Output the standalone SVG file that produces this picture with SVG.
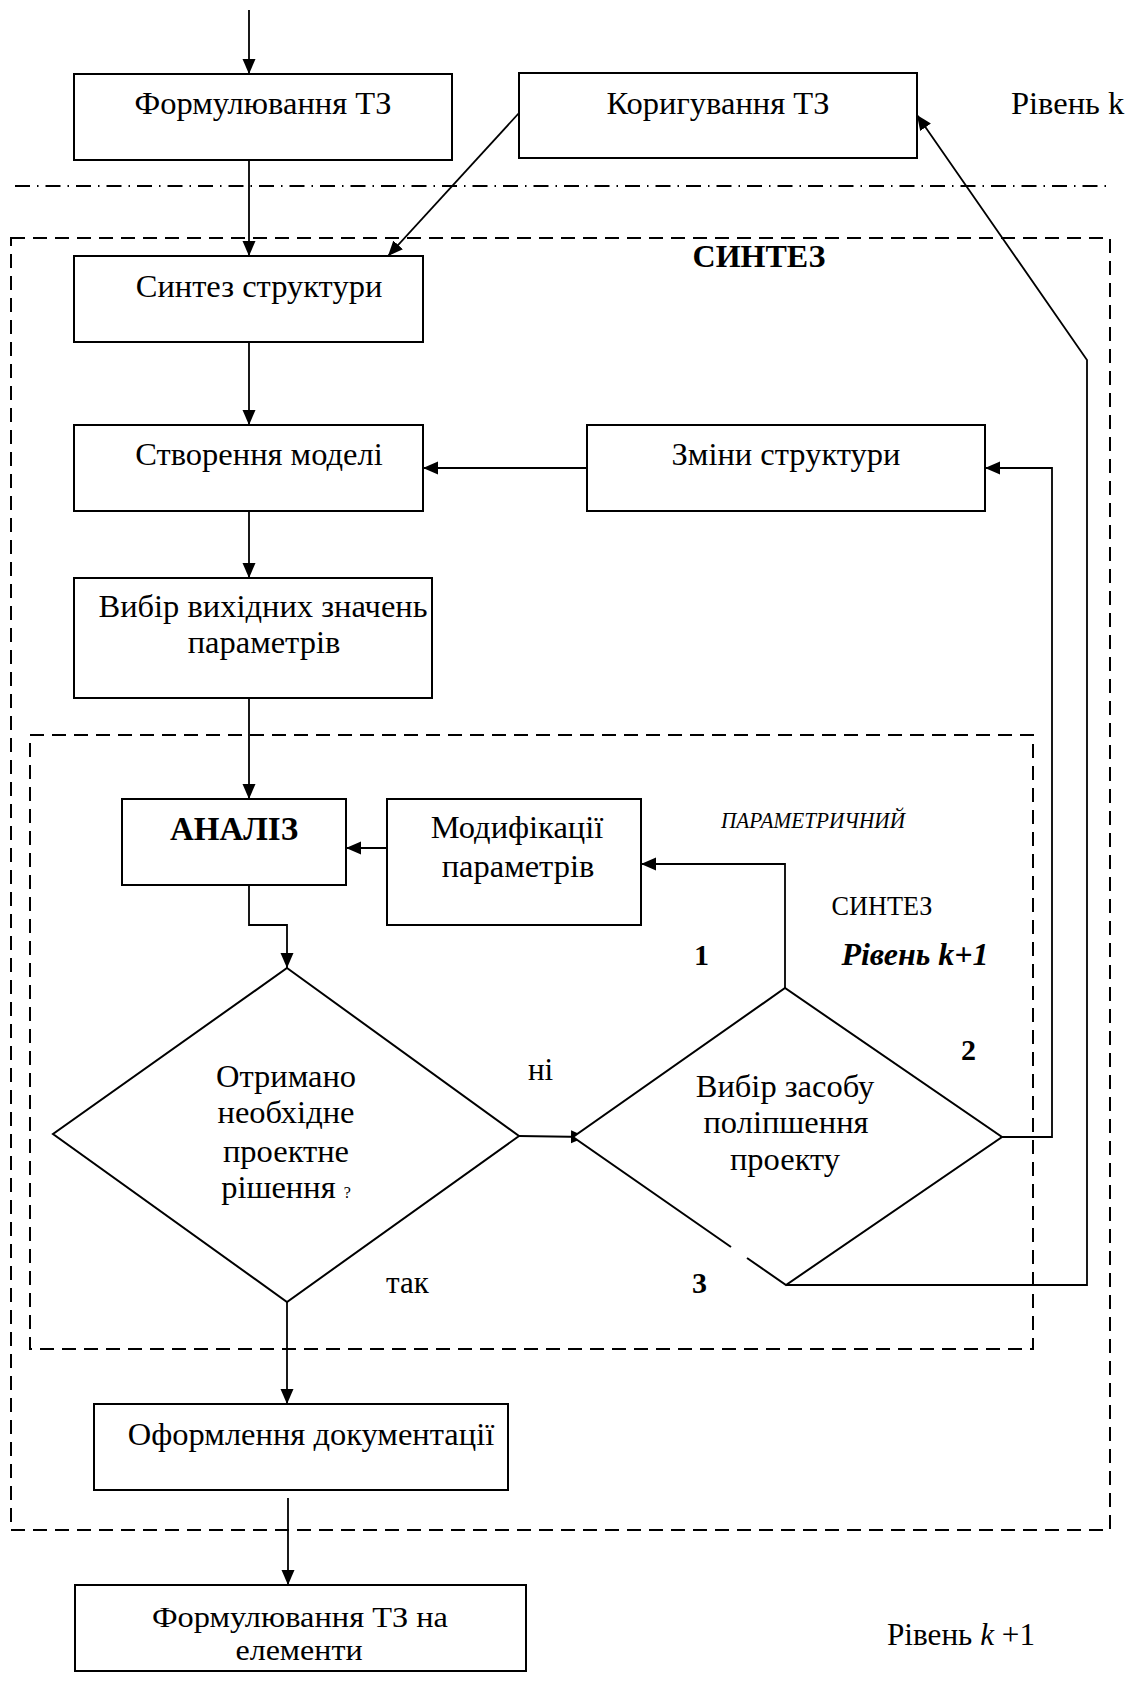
<svg xmlns="http://www.w3.org/2000/svg" width="1135" height="1700" viewBox="0 0 1135 1700">
<defs>
<marker id="arr" markerUnits="userSpaceOnUse" markerWidth="16" markerHeight="14" refX="15" refY="6.5" orient="auto">
<path d="M0,0 L15,6.5 L0,13 z" fill="#000"/>
</marker>
<style>
.box{fill:#fff;stroke:#000;stroke-width:2}
.ln{fill:none;stroke:#000;stroke-width:1.8}
.dash{fill:none;stroke:#000;stroke-width:2;stroke-dasharray:14 8}
.dd{fill:none;stroke:#000;stroke-width:2;stroke-dasharray:15 7 1.5 7}
text{font-family:"Liberation Serif","Times New Roman",serif;font-size:32.5px;fill:#000}
.c{text-anchor:middle}
.b{font-weight:bold}
.i{font-style:italic}
</style>
</defs>
<rect width="1135" height="1700" fill="#fff"/>

<g id="frames">
<line class="dd" x1="15" y1="186" x2="1112" y2="186"/>
<rect class="dash" x="11" y="238" width="1099" height="1292"/>
<rect class="dash" x="30" y="735" width="1003" height="614"/>
</g>

<g id="connectors">
<line class="ln" x1="249" y1="10" x2="249" y2="74" marker-end="url(#arr)"/>
<line class="ln" x1="249" y1="160" x2="249" y2="256" marker-end="url(#arr)"/>
<line class="ln" x1="519" y1="113" x2="388" y2="256" marker-end="url(#arr)"/>
<line class="ln" x1="249" y1="342" x2="249" y2="425" marker-end="url(#arr)"/>
<line class="ln" x1="249" y1="511" x2="249" y2="578" marker-end="url(#arr)"/>
<line class="ln" x1="587" y1="468" x2="423" y2="468" marker-end="url(#arr)"/>
<line class="ln" x1="249" y1="698" x2="249" y2="799" marker-end="url(#arr)"/>
<line class="ln" x1="387" y1="848" x2="346" y2="848" marker-end="url(#arr)"/>
<polyline class="ln" points="249,885 249,925 287,925 287,968" marker-end="url(#arr)"/>
<line class="ln" x1="519" y1="1136" x2="586" y2="1137" marker-end="url(#arr)"/>
<polyline class="ln" points="785,988 785,864 641,864" marker-end="url(#arr)"/>
<polyline class="ln" points="1002,1137 1052,1137 1052,468 985,468" marker-end="url(#arr)"/>
<polyline class="ln" points="786,1285 1087,1285 1087,360 917,115" marker-end="url(#arr)"/>
<line class="ln" x1="287" y1="1302" x2="287" y2="1404" marker-end="url(#arr)"/>
<line class="ln" x1="288" y1="1498" x2="288" y2="1585" marker-end="url(#arr)"/>
</g>

<g id="n-formulation">
<rect class="box" x="74" y="74" width="378" height="86"/>
<text class="c" x="263" y="114">Формулювання ТЗ</text>
</g>
<g id="n-correction">
<rect class="box" x="519" y="73" width="398" height="85"/>
<text class="c" x="718" y="114">Коригування ТЗ</text>
</g>
<g id="label-level-k">
<text x="1011" y="114">Рівень k</text>
</g>
<g id="label-synthesis">
<text class="c b" style="font-size:32px" x="759" y="267">СИНТЕЗ</text>
</g>
<g id="n-structure-synthesis">
<rect class="box" x="74" y="256" width="349" height="86"/>
<text class="c" x="259" y="297">Синтез структури</text>
</g>
<g id="n-model">
<rect class="box" x="74" y="425" width="349" height="86"/>
<text class="c" x="259" y="465">Створення моделі</text>
</g>
<g id="n-structure-change">
<rect class="box" x="587" y="425" width="398" height="86"/>
<text class="c" x="786" y="465">Зміни структури</text>
</g>
<g id="n-initial-values">
<rect class="box" x="74" y="578" width="358" height="120"/>
<text class="c" x="263" y="617">Вибір вихідних значень</text>
<text class="c" x="264" y="653">параметрів</text>
</g>
<g id="n-analysis">
<rect class="box" x="122" y="799" width="224" height="86"/>
<text class="c b" style="font-size:33px" x="234" y="840">АНАЛІЗ</text>
</g>
<g id="n-param-mod">
<rect class="box" x="387" y="799" width="254" height="126"/>
<text class="c" x="517" y="838">Модифікації</text>
<text class="c" x="518" y="877">параметрів</text>
</g>
<g id="labels-param">
<text class="c i" style="font-size:23px" x="813" y="828" textLength="184" lengthAdjust="spacingAndGlyphs">ПАРАМЕТРИЧНИЙ</text>
<text class="c" style="font-size:27px" x="882" y="915" textLength="101" lengthAdjust="spacingAndGlyphs">СИНТЕЗ</text>
<text class="b" style="font-size:30px" x="694" y="965">1</text>
<text class="c b i" style="font-size:32px" x="915" y="965">Рівень k+1</text>
<text class="b" style="font-size:30px" x="961" y="1060">2</text>
<text class="b" style="font-size:30px" x="692" y="1293">3</text>
<text style="font-size:31px" x="528" y="1080">ні</text>
<text style="font-size:31px" x="386" y="1293">так</text>
</g>
<g id="n-decision">
<polygon class="box" points="287,968 519,1136 287,1302 53,1134"/>
<text class="c" x="286" y="1087">Отримано</text>
<text class="c" x="286" y="1123">необхідне</text>
<text class="c" x="286" y="1162">проектне</text>
<text class="c" x="286" y="1198">рішення <tspan style="font-size:16px">?</tspan></text>
</g>
<g id="n-improve">
<polygon points="785,988 1002,1137 786,1285 573,1137" fill="#fff"/>
<path class="ln" style="stroke-width:2" d="M731,1247 L573,1137 L785,988 L1002,1137 L786,1285 L747,1258"/>
<text class="c" x="785" y="1097">Вибір засобу</text>
<text class="c" x="786" y="1133">поліпшення</text>
<text class="c" x="785" y="1170">проекту</text>
</g>
<g id="n-documentation">
<rect class="box" x="94" y="1404" width="414" height="86"/>
<text class="c" x="311" y="1445">Оформлення документації</text>
</g>
<g id="n-element-spec">
<rect class="box" x="75" y="1585" width="451" height="86"/>
<text class="c" style="font-size:30px" x="300" y="1627" textLength="296" lengthAdjust="spacingAndGlyphs">Формулювання ТЗ на</text>
<text class="c" style="font-size:30px" x="299" y="1660" textLength="127" lengthAdjust="spacingAndGlyphs">елементи</text>
</g>
<g id="label-level-k1">
<text style="font-size:32px" x="887" y="1645" textLength="148" lengthAdjust="spacingAndGlyphs">Рівень <tspan class="i">k</tspan> +1</text>
</g>
</svg>
